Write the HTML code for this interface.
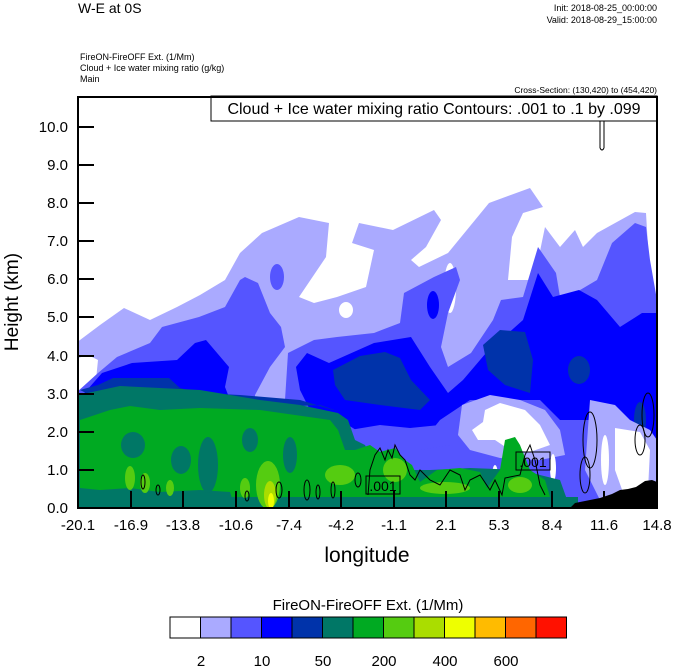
<!DOCTYPE html>
<html><head><meta charset="utf-8"><style>
body{margin:0;background:#fff;}
svg{display:block;font-family:"Liberation Sans",sans-serif;}
</style></head><body>
<svg width="674" height="667" viewBox="0 0 674 667" xmlns="http://www.w3.org/2000/svg">
<rect width="674" height="667" fill="#fff"/>
<text x="78" y="13" font-size="14">W-E at 0S</text>
<text x="657" y="11" font-size="9" text-anchor="end">Init: 2018-08-25_00:00:00</text>
<text x="657" y="23" font-size="9" text-anchor="end">Valid: 2018-08-29_15:00:00</text>
<text x="80" y="60" font-size="9">FireON-FireOFF Ext.   (1/Mm)</text>
<text x="80" y="71" font-size="9">Cloud + Ice water mixing ratio   (g/kg)</text>
<text x="80" y="82" font-size="9">Main</text>
<text x="657" y="93" font-size="8.5" text-anchor="end">Cross-Section: (130,420) to (454,420)</text>
<defs><clipPath id="pc"><rect x="78" y="97" width="579" height="411"/></clipPath></defs>
<g clip-path="url(#pc)">
<polygon fill="#aaaaff" points="76,343 100,325 124,308 150,320 177,307 200,295 225,280 240,253 262,233 299,217 329,223 326,257 299,297 314,303 337,297 366,287 374,250 352,243 359,223 393,230 434,210 441,220 426,247 411,260 419,267 448,253 489,203 530,188 543,207 523,213 512,237 508,280 534,280 545,227 560,247 575,230 583,247 597,233 635,212 646,213 650,280 657,300 657,508 76,508"/>
<ellipse cx="450" cy="288" rx="6" ry="25" fill="#fff"/>
<ellipse cx="418" cy="335" rx="8" ry="12" fill="#fff"/>
<ellipse cx="346" cy="310" rx="7" ry="8" fill="#fff"/>
<polygon fill="#fff" points="78,358 88,355 98,360 96,380 90,392 78,392"/>
<polygon fill="#5555ff" points="76,393 98,373 117,357 150,343 162,327 199,317 225,307 240,280 245,277 258,283 270,313 281,327 285,347 270,367 255,395 250,508 76,508"/>
<polygon fill="#5555ff" points="288,353 314,340 337,337 374,333 400,323 404,293 434,277 456,267 460,280 448,313 441,347 448,367 471,353 493,320 501,300 523,297 538,247 556,273 560,297 575,293 597,280 612,243 635,223 646,227 650,260 657,300 657,508 290,508 285,400"/>
<ellipse cx="277" cy="277" rx="7" ry="13" fill="#5555ff"/>
<polygon fill="#0000ff" points="80,398 102,373 132,363 177,360 195,343 206,340 229,367 225,387 232,405 200,410 90,410"/>
<polygon fill="#0000ff" points="296,367 307,353 329,363 374,343 411,337 430,367 448,393 463,380 486,353 523,320 538,273 553,297 579,290 597,300 620,327 642,313 657,313 657,440 640,430 600,420 560,420 540,400 470,400 440,420 420,445 380,445 340,420 310,410 300,390"/>
<ellipse cx="433" cy="305" rx="6" ry="14" fill="#0000ff"/>
<polygon fill="#0033aa" points="80,390 98,385 113,378 169,378 180,388 200,393 240,395 300,400 340,412 320,405 260,408 200,400 100,400"/>
<polygon fill="#0033aa" points="333,370 360,356 385,352 400,358 411,380 430,400 420,410 380,405 345,400 335,385"/>
<polygon fill="#0033aa" points="483,345 500,330 525,332 533,360 530,393 505,385 488,370"/>
<ellipse cx="579" cy="370" rx="11" ry="14" fill="#0033aa"/>
<ellipse cx="640" cy="420" rx="6" ry="18" fill="#0033aa"/>
<polygon fill="#5555ff" points="350,430 380,425 410,428 440,425 450,445 420,450 380,450"/>
<polygon fill="#aaaaff" points="462,405 490,395 520,400 545,410 560,430 565,455 540,460 500,458 470,450 458,435"/>
<polygon fill="#fff" points="485,410 500,403 525,410 540,425 550,445 530,452 510,450 495,440 478,440 472,430 483,422"/>
<polygon fill="#aaaaff" points="590,400 615,405 630,420 650,430 657,440 657,500 600,500 585,470"/>
<polygon fill="#fff" points="615,428 640,432 650,450 648,490 625,498 615,470"/>
<ellipse cx="553" cy="468" rx="3" ry="14" fill="#fff"/>
<ellipse cx="495" cy="477" rx="3" ry="12" fill="#fff"/>
<ellipse cx="605" cy="460" rx="4" ry="25" fill="#fff"/>
<polygon fill="#007766" points="78,395 120,386 200,390 260,400 300,405 338,413 348,420 355,440 365,445 372,460 380,470 430,470 470,468 520,470 560,480 570,508 78,508"/>
<polygon fill="#00aa22" points="80,420 110,410 130,406 160,410 200,408 260,410 330,420 338,430 345,450 355,450 370,445 380,452 395,448 405,460 412,465 420,482 437,470 460,468 480,472 487,488 500,470 505,440 515,437 520,445 530,470 545,480 550,497 300,497 280,500 250,508 235,508 230,492 200,490 160,492 130,488 100,490 80,488"/>
<g fill="#007766">
<ellipse cx="133" cy="445" rx="12" ry="13"/><ellipse cx="181" cy="460" rx="10" ry="14"/><ellipse cx="208" cy="465" rx="10" ry="28"/>
<ellipse cx="250" cy="440" rx="8" ry="12"/><ellipse cx="290" cy="455" rx="7" ry="18"/>
<rect x="78" y="497" width="500" height="11"/>
</g>
<g fill="#55cc11">
<ellipse cx="268" cy="485" rx="12" ry="24"/><ellipse cx="130" cy="478" rx="5" ry="12"/><ellipse cx="145" cy="483" rx="5" ry="10"/>
<ellipse cx="170" cy="488" rx="4" ry="8"/><ellipse cx="245" cy="488" rx="5" ry="10"/><ellipse cx="340" cy="475" rx="15" ry="10"/>
<ellipse cx="395" cy="470" rx="12" ry="12"/><ellipse cx="445" cy="488" rx="25" ry="6"/><ellipse cx="520" cy="485" rx="12" ry="8"/>
</g>
<ellipse cx="270" cy="495" rx="6" ry="14" fill="#aadd00"/>
<ellipse cx="271" cy="501" rx="3" ry="8" fill="#eeff00"/>
<polygon fill="#000" points="570,508 575,503 590,500 600,498 612,494 620,490 628,489 636,487 645,481 652,480 657,482 657,508"/>
<g fill="none" stroke="#000" stroke-width="1">
<ellipse cx="143" cy="482" rx="2" ry="7"/><ellipse cx="158" cy="490" rx="2" ry="5"/>
<ellipse cx="247" cy="496" rx="2" ry="5"/><ellipse cx="279" cy="490" rx="3" ry="8"/>
<ellipse cx="307" cy="490" rx="3" ry="10"/><ellipse cx="318" cy="492" rx="2" ry="7"/>
<ellipse cx="333" cy="490" rx="2" ry="8"/><ellipse cx="358" cy="480" rx="3" ry="7"/>
<polyline points="368,495 370,470 375,455 380,448 385,460 388,450 392,458 395,445 400,455 405,460 410,475 415,480 420,470 430,480 440,485 450,470 460,475 465,490 470,480 480,475 490,490 495,480 502,495 505,478 520,475 525,455 530,445 535,460 540,485 545,495"/>
<ellipse cx="590" cy="440" rx="7" ry="28"/><ellipse cx="585" cy="475" rx="5" ry="18"/>
<ellipse cx="648" cy="415" rx="6" ry="22"/><ellipse cx="640" cy="440" rx="5" ry="15"/>
<path d="M600,148 L600,120 M604,120 L604,148 M600,148 Q602,152 604,148"/>
</g>
<rect x="366" y="476" width="34" height="18" fill="none" stroke="#000"/>
<text x="383" y="491" font-size="14" text-anchor="middle">.001</text>
<rect x="516" y="452" width="34" height="18" fill="none" stroke="#000"/>
<text x="533" y="467" font-size="14" text-anchor="middle">.001</text>
</g>
<rect x="211" y="96" width="446" height="25" fill="#fff" stroke="#000" stroke-width="1"/>
<text x="434" y="114" font-size="16" text-anchor="middle">Cloud + Ice water mixing ratio Contours: .001 to .1 by .099</text>
<rect x="78" y="97" width="579" height="411" fill="none" stroke="#000" stroke-width="2"/>
<g stroke="#000" stroke-width="2">
<line x1="78" y1="508" x2="94" y2="508"/><line x1="78" y1="470" x2="94" y2="470"/><line x1="78" y1="432" x2="94" y2="432"/>
<line x1="78" y1="394" x2="94" y2="394"/><line x1="78" y1="356" x2="94" y2="356"/><line x1="78" y1="317" x2="94" y2="317"/>
<line x1="78" y1="279" x2="94" y2="279"/><line x1="78" y1="241" x2="94" y2="241"/><line x1="78" y1="203" x2="94" y2="203"/>
<line x1="78" y1="165" x2="94" y2="165"/><line x1="78" y1="127" x2="94" y2="127"/>
<line x1="131" y1="508" x2="131" y2="491"/><line x1="183" y1="508" x2="183" y2="491"/><line x1="236" y1="508" x2="236" y2="491"/>
<line x1="289" y1="508" x2="289" y2="491"/><line x1="341" y1="508" x2="341" y2="491"/><line x1="394" y1="508" x2="394" y2="491"/>
<line x1="446" y1="508" x2="446" y2="491"/><line x1="499" y1="508" x2="499" y2="491"/><line x1="552" y1="508" x2="552" y2="491"/>
<line x1="604" y1="508" x2="604" y2="491"/>
</g>
<g font-size="15" text-anchor="end">
<text x="68" y="513">0.0</text><text x="68" y="475">1.0</text><text x="68" y="437">2.0</text><text x="68" y="399">3.0</text>
<text x="68" y="361">4.0</text><text x="68" y="322">5.0</text><text x="68" y="284">6.0</text><text x="68" y="246">7.0</text>
<text x="68" y="208">8.0</text><text x="68" y="170">9.0</text><text x="68" y="132">10.0</text>
</g>
<g font-size="15" text-anchor="middle">
<text x="78" y="530">-20.1</text><text x="131" y="530">-16.9</text><text x="183" y="530">-13.8</text><text x="236" y="530">-10.6</text>
<text x="289" y="530">-7.4</text><text x="341" y="530">-4.2</text><text x="394" y="530">-1.1</text><text x="446" y="530">2.1</text>
<text x="499" y="530">5.3</text><text x="552" y="530">8.4</text><text x="604" y="530">11.6</text><text x="657" y="530">14.8</text>
</g>
<text x="367" y="562" font-size="21" text-anchor="middle">longitude</text>
<text transform="translate(18,302) rotate(-90)" font-size="19" text-anchor="middle">Height (km)</text>
<text x="368" y="610" font-size="15" text-anchor="middle">FireON-FireOFF Ext.  (1/Mm)</text>
<g stroke="#000" stroke-width="1">
<rect x="170" y="617" width="30.5" height="21" fill="#fff"/>
<rect x="200.5" y="617" width="30.5" height="21" fill="#aaaaff"/>
<rect x="231" y="617" width="30.5" height="21" fill="#5555ff"/>
<rect x="261.5" y="617" width="30.5" height="21" fill="#0000ff"/>
<rect x="292" y="617" width="30.5" height="21" fill="#0033aa"/>
<rect x="322.5" y="617" width="30.5" height="21" fill="#007766"/>
<rect x="353" y="617" width="30.5" height="21" fill="#00aa22"/>
<rect x="383.5" y="617" width="30.5" height="21" fill="#55cc11"/>
<rect x="414" y="617" width="30.5" height="21" fill="#aadd00"/>
<rect x="444.5" y="617" width="30.5" height="21" fill="#eeff00"/>
<rect x="475" y="617" width="30.5" height="21" fill="#ffbb00"/>
<rect x="505.5" y="617" width="30.5" height="21" fill="#ff6600"/>
<rect x="536" y="617" width="30.5" height="21" fill="#ff1100"/>
</g>
<g font-size="15" text-anchor="middle">
<text x="201" y="666">2</text><text x="262" y="666">10</text><text x="323" y="666">50</text>
<text x="384" y="666">200</text><text x="445" y="666">400</text><text x="506" y="666">600</text>
</g>
</svg>
</body></html>
